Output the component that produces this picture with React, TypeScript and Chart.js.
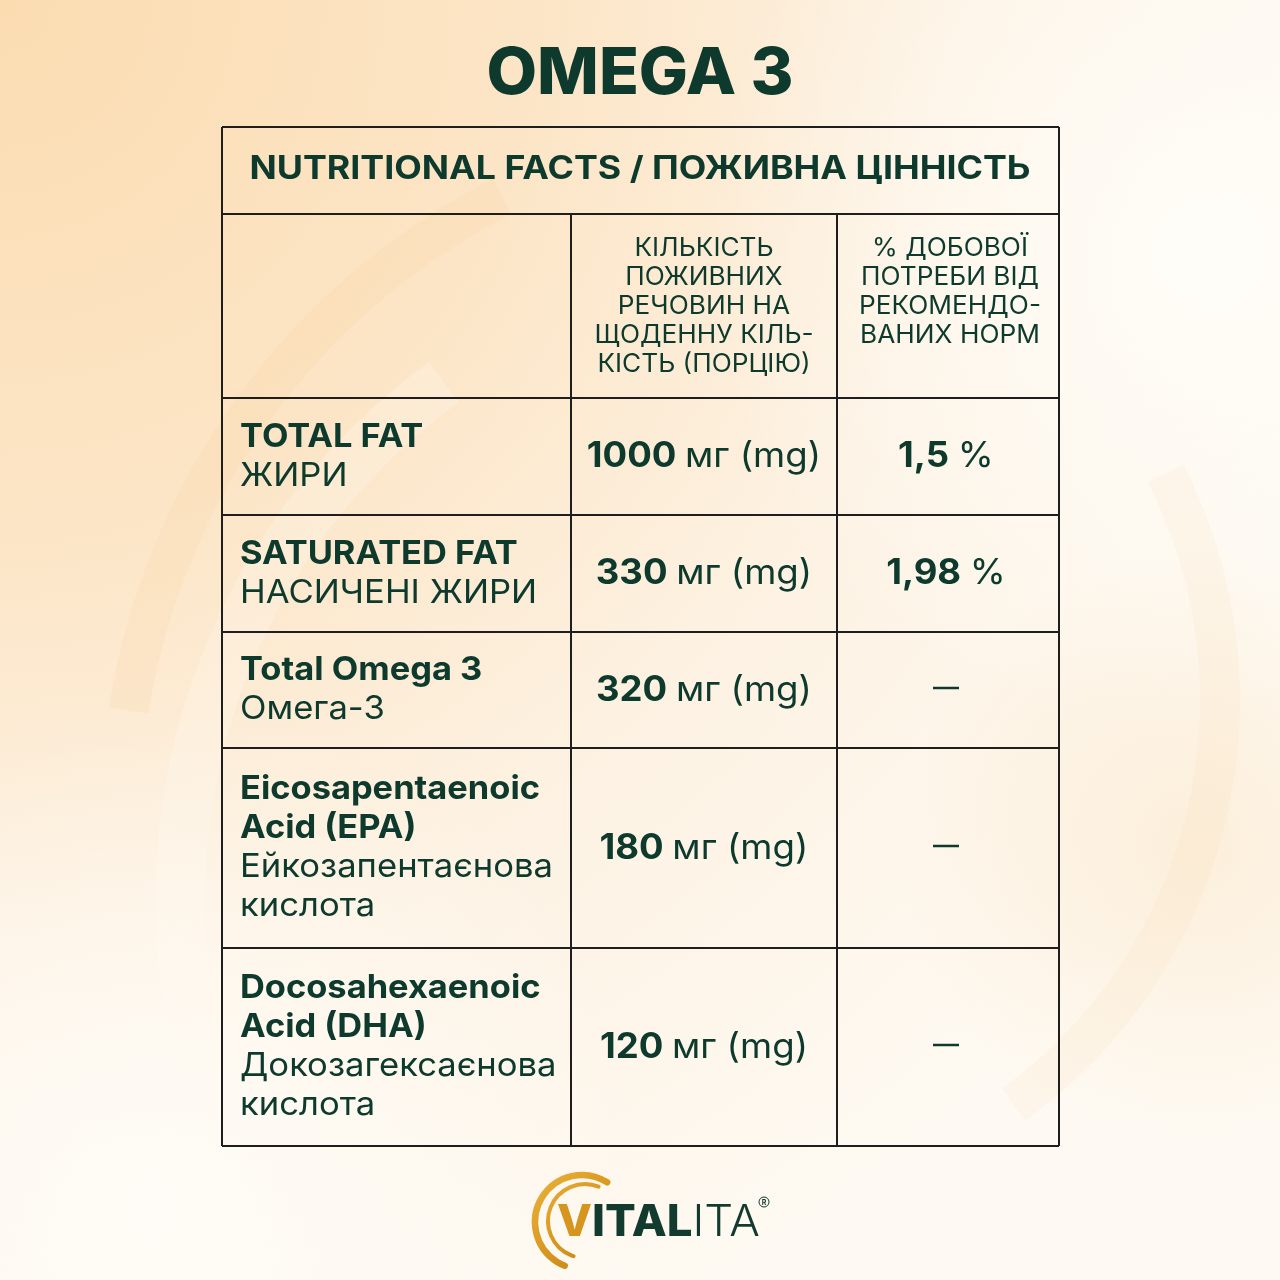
import React, { useEffect, useRef } from "react";
import { Chart, registerables } from "chart.js";
Chart.register(...registerables);

const TITLE = "OMEGA 3";
const TABLE_HEADER = "NUTRITIONAL FACTS / ПОЖИВНА ЦІННІСТЬ";
const COL2_HEADER = ["КІЛЬКІСТЬ", "ПОЖИВНИХ", "РЕЧОВИН НА", "ЩОДЕННУ КІЛЬ-", "КІСТЬ (ПОРЦІЮ)"];
const COL3_HEADER = ["% ДОБОВОЇ", "ПОТРЕБИ ВІД", "РЕКОМЕНДО-", "ВАНИХ НОРМ"];
const NUTRIENTS_EN = [["TOTAL FAT"], ["SATURATED FAT"], ["Total Omega 3"], ["Eicosapentaenoic", "Acid (EPA)"], ["Docosahexaenoic", "Acid (DHA)"]];
const NUTRIENTS_UA = [["ЖИРИ"], ["НАСИЧЕНІ ЖИРИ"], ["Омега-3"], ["Ейкозапентаєнова", "кислота"], ["Докозагексаєнова", "кислота"]];
const AMOUNTS_MG = [1000, 330, 320, 180, 120];
const UNIT = "мг (mg)";
const DAILY_PCT: (string | null)[] = ["1,5", "1,98", null, null, null];
const BRAND = ["V", "ITAL", "ITA"];

// layout (pixels)
const ROW_EDGES = [127, 214, 398, 515, 632, 748, 948, 1146];
const COL_EDGES = [222, 571, 837, 1059];
const FAM = "Inter, 'Open Sans', sans-serif";
const INK = "#0d3a2d";

type Run = { text: string; font: string; sx: number; color?: string };

function measure(ctx: CanvasRenderingContext2D, text: string, font: string) {
  ctx.font = font;
  return ctx.measureText(text).width;
}

function drawRuns(ctx: CanvasRenderingContext2D, runs: Run[], x: number, y: number, align: "left" | "center") {
  const widths = runs.map((r) => measure(ctx, r.text, r.font) * r.sx);
  const total = widths.reduce((a, b) => a + b, 0);
  let cx = align === "center" ? x - total / 2 : x;
  runs.forEach((r, i) => {
    ctx.save();
    ctx.translate(cx, y);
    ctx.scale(r.sx, 1);
    ctx.font = r.font;
    ctx.fillStyle = r.color || INK;
    ctx.textAlign = "left";
    ctx.textBaseline = "alphabetic";
    ctx.fillText(r.text, 0, 0);
    ctx.restore();
    cx += widths[i];
  });
}

function drawBackground(ctx: CanvasRenderingContext2D, w: number, h: number) {
  let g = ctx.createRadialGradient(0, 0, 0, 0, 0, 1500);
  g.addColorStop(0, "#fbdcb1");
  g.addColorStop(0.35, "#fce5c6");
  g.addColorStop(0.65, "#fdf2e3");
  g.addColorStop(1, "#fefaf3");
  ctx.fillStyle = g;
  ctx.fillRect(0, 0, w, h);
  g = ctx.createRadialGradient(1200, 250, 0, 1200, 250, 500);
  g.addColorStop(0, "rgba(255,254,250,0.85)");
  g.addColorStop(1, "rgba(255,254,250,0)");
  ctx.fillStyle = g;
  ctx.fillRect(0, 0, w, h);
  g = ctx.createRadialGradient(150, 1200, 0, 150, 1200, 500);
  g.addColorStop(0, "rgba(255,253,249,0.85)");
  g.addColorStop(1, "rgba(255,253,249,0)");
  ctx.fillStyle = g;
  ctx.fillRect(0, 0, w, h);
  g = ctx.createRadialGradient(1200, 850, 0, 1200, 850, 300);
  g.addColorStop(0, "rgba(250,225,190,0.45)");
  g.addColorStop(1, "rgba(250,225,190,0)");
  ctx.fillStyle = g;
  ctx.fillRect(0, 0, w, h);
  // very faint swirl arcs
  ctx.save();
  ctx.lineCap = "butt";
  ctx.strokeStyle = "rgba(246,200,140,0.13)";
  ctx.lineWidth = 40;
  ctx.beginPath();
  ctx.arc(820, 820, 700, Math.PI * 1.05, Math.PI * 1.35);
  ctx.stroke();
  ctx.strokeStyle = "rgba(255,252,245,0.25)";
  ctx.lineWidth = 50;
  ctx.beginPath();
  ctx.arc(820, 900, 640, Math.PI * 0.95, Math.PI * 1.3);
  ctx.stroke();
  ctx.strokeStyle = "rgba(246,210,165,0.12)";
  ctx.lineWidth = 40;
  ctx.beginPath();
  ctx.arc(720, 700, 500, -Math.PI * 0.15, Math.PI * 0.3);
  ctx.stroke();
  ctx.restore();
}

function drawLogo(ctx: CanvasRenderingContext2D) {
  ctx.save();
  const gold = ctx.createLinearGradient(520, 1170, 620, 1270);
  gold.addColorStop(0, "#f0b640");
  gold.addColorStop(0.5, "#d99a22");
  gold.addColorStop(1, "#c27d12");
  ctx.strokeStyle = gold;
  ctx.lineCap = "round";
  ctx.lineWidth = 6.5;
  ctx.beginPath();
  ctx.arc(582, 1222, 47, Math.PI * 1.68, Math.PI * 0.62, true);
  ctx.stroke();
  ctx.lineWidth = 4;
  ctx.beginPath();
  ctx.arc(585, 1221, 37, Math.PI * 1.62, Math.PI * 0.6, true);
  ctx.stroke();
  ctx.restore();
  const size = 44;
  const bold = `800 ${size}px ${FAM}`;
  const light = `300 ${size}px ${FAM}`;
  const natural = measure(ctx, BRAND[0], bold) + measure(ctx, BRAND[1], bold) + measure(ctx, BRAND[2], light);
  const sx = 203 / natural;
  drawRuns(
    ctx,
    [
      { text: BRAND[0], font: bold, sx, color: "#d5951e" },
      { text: BRAND[1], font: bold, sx, color: "#123a2e" },
      { text: BRAND[2], font: light, sx, color: "#123a2e" },
    ],
    557,
    1236,
    "left"
  );
  ctx.save();
  ctx.strokeStyle = "#123a2e";
  ctx.lineWidth = 1;
  ctx.beginPath();
  ctx.arc(764, 1202, 5, 0, Math.PI * 2);
  ctx.stroke();
  ctx.font = `700 7px ${FAM}`;
  ctx.fillStyle = "#123a2e";
  ctx.textAlign = "center";
  ctx.textBaseline = "middle";
  ctx.fillText("R", 764, 1202.5);
  ctx.restore();
}

const tablePlugin = {
  id: "nutritionTable",
  beforeDraw(chart: any) {
    const ctx: CanvasRenderingContext2D = chart.ctx;
    drawBackground(ctx, chart.width, chart.height);
  },
  afterDraw(chart: any) {
    const ctx: CanvasRenderingContext2D = chart.ctx;
    const tFont = `800 64px ${FAM}`;
    drawRuns(ctx, [{ text: TITLE, font: tFont, sx: 307 / measure(ctx, TITLE, tFont) }], 640, 94, "center");

    ctx.save();
    ctx.strokeStyle = "#1e1e1e";
    ctx.lineWidth = 2;
    const L = COL_EDGES[0], R = COL_EDGES[COL_EDGES.length - 1];
    const T = ROW_EDGES[0], B = ROW_EDGES[ROW_EDGES.length - 1];
    ctx.beginPath();
    ROW_EDGES.forEach((y) => { ctx.moveTo(L, y); ctx.lineTo(R, y); });
    ctx.moveTo(L, T); ctx.lineTo(L, B);
    ctx.moveTo(R, T); ctx.lineTo(R, B);
    COL_EDGES.slice(1, -1).forEach((x) => { ctx.moveTo(x, ROW_EDGES[1]); ctx.lineTo(x, B); });
    ctx.stroke();
    ctx.restore();

    const hFont = `700 32px ${FAM}`;
    drawRuns(ctx, [{ text: TABLE_HEADER, font: hFont, sx: 781 / measure(ctx, TABLE_HEADER, hFont) }], 640, 179, "center");

    const boldF = (s: number) => `700 ${s}px ${FAM}`;
    const regF = (s: number) => `400 ${s}px ${FAM}`;
    const sxB = 300 / measure(ctx, "Eicosapentaenoic", boldF(33));
    const sxR = 313 / measure(ctx, "Ейкозапентаєнова", regF(33));

    const chSize = 25;
    const chLead = 29;
    const c2x = (COL_EDGES[1] + COL_EDGES[2]) / 2;
    const c3x = (COL_EDGES[2] + COL_EDGES[3]) / 2;
    COL2_HEADER.forEach((t, i) => drawRuns(ctx, [{ text: t, font: regF(chSize), sx: sxR }], c2x, 256 + i * chLead, "center"));
    COL3_HEADER.forEach((t, i) => drawRuns(ctx, [{ text: t, font: regF(chSize), sx: sxR }], c3x + 2, 256 + i * chLead, "center"));

    const lead = 39;
    const lblSize = 33;
    const cap = lblSize * 0.36;
    NUTRIENTS_EN.forEach((en, r) => {
      const y0 = ROW_EDGES[r + 2];
      const y1 = ROW_EDGES[r + 3];
      const lines: Run[] = [
        ...en.map((t) => ({ text: t, font: boldF(lblSize), sx: sxB })),
        ...NUTRIENTS_UA[r].map((t) => ({ text: t, font: regF(lblSize), sx: sxR })),
      ];
      const cy = (y0 + y1) / 2 - 2;
      const first = cy - ((lines.length - 1) * lead) / 2;
      lines.forEach((ln, i) => drawRuns(ctx, [ln], 240, first + i * lead + cap, "left"));

      const vSize = 35;
      const vb = cy + vSize * 0.36;
      drawRuns(
        ctx,
        [
          { text: String(AMOUNTS_MG[r]) + " ", font: boldF(vSize), sx: sxB },
          { text: UNIT, font: regF(vSize), sx: sxR },
        ],
        c2x,
        vb,
        "center"
      );
      const p = DAILY_PCT[r];
      if (p) {
        drawRuns(
          ctx,
          [
            { text: p + " ", font: boldF(vSize), sx: sxB },
            { text: "%", font: regF(vSize), sx: sxR },
          ],
          c3x - 2,
          vb,
          "center"
        );
      } else {
        ctx.save();
        ctx.strokeStyle = INK;
        ctx.lineWidth = 2.5;
        ctx.beginPath();
        ctx.moveTo(c3x - 15, cy);
        ctx.lineTo(c3x + 11, cy);
        ctx.stroke();
        ctx.restore();
      }
    });

    drawLogo(ctx);
  },
};

export default function App() {
  const ref = useRef<HTMLCanvasElement | null>(null);
  useEffect(() => {
    document.body.style.margin = "0";
    const canvas = ref.current;
    if (!canvas) return;
    const chart = new Chart(canvas, {
      type: "scatter",
      data: { datasets: [{ data: AMOUNTS_MG.map((v, i) => ({ x: i, y: v })), pointRadius: 0, showLine: false }] },
      options: {
        responsive: false,
        animation: false,
        devicePixelRatio: 1,
        events: [],
        layout: { padding: 0 },
        plugins: { legend: { display: false }, tooltip: { enabled: false } },
        scales: { x: { display: false }, y: { display: false } },
      },
      plugins: [tablePlugin],
    });
    return () => chart.destroy();
  }, []);
  return (
    <div style={{ width: 1280, height: 1280 }}>
      <canvas ref={ref} width={1280} height={1280} style={{ display: "block", width: 1280, height: 1280 }} />
    </div>
  );
}
